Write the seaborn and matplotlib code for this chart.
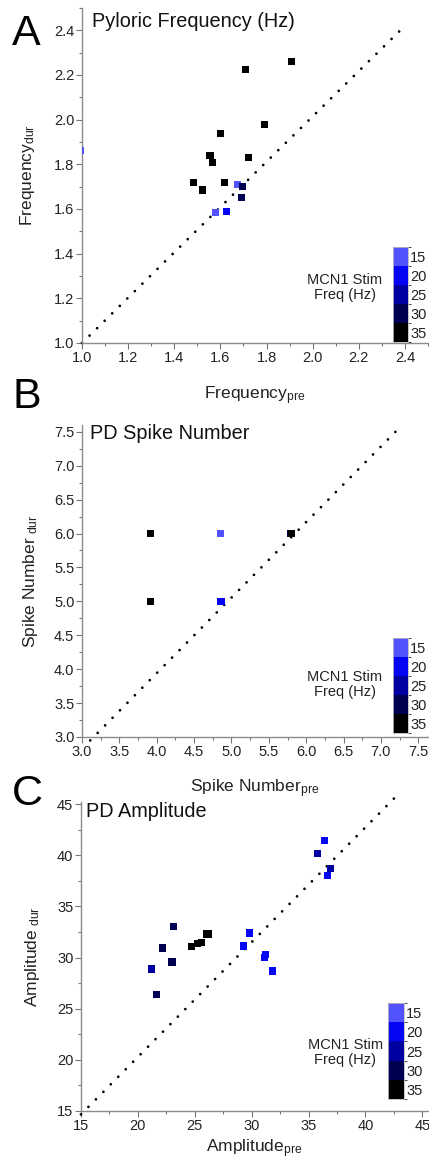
import numpy as np
import pandas as pd
import matplotlib
matplotlib.use("Agg")
import matplotlib.pyplot as plt
from matplotlib.colors import ListedColormap, BoundaryNorm
from matplotlib.cm import ScalarMappable
from matplotlib.ticker import MultipleLocator, FormatStrFormatter
import seaborn as sns

# stimulation frequencies and colours (colour scale)
stim_levels = [15, 20, 25, 30, 35]
stim_colors = ["#5252ff", "#0505f5", "#0000a2", "#000052", "#000000"]

# panel A: pyloric frequency
freq_pre = [1.91, 1.71, 1.79, 1.60, 1.555, 1.567, 1.72, 1.485, 1.523, 1.617,
            1.675, 1.697, 1.693, 1.578, 1.626, 0.993]
freq_dur = [2.26, 2.225, 1.98, 1.94, 1.84, 1.81, 1.83, 1.72, 1.685, 1.72,
            1.71, 1.70, 1.65, 1.585, 1.59, 1.86]
freq_stim = [35, 35, 35, 35, 35, 35, 35, 35, 35, 35, 15, 30, 30, 15, 20, 15]
diag_a_x = [1.0, 2.38]
diag_a_y = [1.0, 2.40]

# panel B: PD spike number
spike_pre = [3.92, 3.92, 4.855, 4.86, 5.785, 5.80]
spike_dur = [6.0, 5.0, 6.0, 5.0, 6.0, 6.0]
spike_stim = [35, 35, 15, 20, 30, 35]
diag_b_x = [3.11, 7.24]
diag_b_y = [2.95, 7.55]

# panel C: PD amplitude
amp_pre = [36.44, 35.76, 36.9, 36.64, 29.84, 29.25, 31.25, 31.16, 31.83,
           23.15, 22.16, 23.0, 21.19, 21.6, 24.68, 25.26, 25.59, 26.0, 26.2]
amp_dur = [41.41, 40.2, 38.7, 37.98, 32.4, 31.13, 30.3, 29.99, 28.68,
           33.02, 30.93, 29.56, 28.88, 26.36, 31.06, 31.36, 31.49, 32.3, 32.3]
amp_stim = [20, 25, 25, 20, 20, 20, 20, 20, 20,
            30, 30, 30, 25, 30, 35, 35, 35, 35, 35]
diag_c_x = [15.0, 42.74]
diag_c_y = [14.67, 45.8]

sns.set_style("ticks")
plt.rcParams["font.family"] = ["Liberation Sans", "DejaVu Sans"]
plt.rcParams["mathtext.default"] = "regular"

W, H = 429, 1160
fig = plt.figure(figsize=(W / 100, H / 100), dpi=100)
palette = dict(zip(stim_levels, stim_colors))


def px_axes(left, top, right, bottom):
    return fig.add_axes([left / W, 1 - bottom / H, (right - left) / W, (bottom - top) / H])


def panel(ax, x, y, stim, dx, dy, xlim, ylim, major, minor, title, title_x, title_y,
          xlabel, ylabel, xlab_y, ylab_x, cbar_box, legend_xy):
    df = pd.DataFrame({"pre": x, "dur": y, "stim": stim})
    ax.plot(dx, dy, color="black", lw=2.0, linestyle=(0, (0.01, 3.8)),
            dash_capstyle="round", clip_on=False, zorder=1)
    sns.scatterplot(data=df, x="pre", y="dur", hue="stim", palette=palette,
                    marker="s", s=26, linewidth=0, legend=False, ax=ax, zorder=3)
    ax.set_xlim(*xlim)
    ax.set_ylim(*ylim)
    ax.xaxis.set_major_locator(MultipleLocator(major))
    ax.yaxis.set_major_locator(MultipleLocator(major))
    ax.xaxis.set_minor_locator(MultipleLocator(minor))
    ax.yaxis.set_minor_locator(MultipleLocator(minor))
    if major < 1:
        ax.xaxis.set_major_formatter(FormatStrFormatter("%.1f"))
        ax.yaxis.set_major_formatter(FormatStrFormatter("%.1f"))
    sns.despine(ax=ax)
    for s in ["left", "bottom"]:
        ax.spines[s].set_color("#8c8c8c")
        ax.spines[s].set_linewidth(1.0)
    ax.tick_params(which="major", length=4, width=0.8, color="#777777",
                   labelsize=10.5, labelcolor="#222222", pad=1.5)
    ax.tick_params(which="minor", length=2.5, width=0.8, color="#777777")
    ax.set_xlabel(xlabel, fontsize=12.5, color="#222222", va="top")
    ax.set_ylabel(ylabel, fontsize=12.5, color="#222222")
    ax.xaxis.set_label_coords(0.5, xlab_y)
    ax.yaxis.set_label_coords(ylab_x, 0.5)
    ax.text(title_x, title_y, title, transform=ax.transAxes, fontsize=14.3,
            color="#111111", va="baseline", ha="left")
    # discrete colour scale
    cax = ax.inset_axes(cbar_box)
    bounds = np.arange(12.5, 40, 5)
    sm = ScalarMappable(norm=BoundaryNorm(bounds, len(stim_colors)),
                        cmap=ListedColormap(stim_colors))
    cb = fig.colorbar(sm, cax=cax, ticks=stim_levels)
    cax.invert_yaxis()
    cb.outline.set_edgecolor("#bbbbbb")
    cb.outline.set_linewidth(0.6)
    cax.tick_params(length=0, labelsize=10.5, labelcolor="#222222", pad=1.5)
    ax.text(legend_xy[0], legend_xy[1], "MCN1 Stim\nFreq (Hz)", transform=ax.transAxes,
            ha="center", va="center", fontsize=10.5, color="#222222", linespacing=1.1)


axA = px_axes(82, 8, 428, 343)
panel(axA, freq_pre, freq_dur, freq_stim, diag_a_x, diag_a_y,
      (1.0, 2.5), (1.0, 2.5), 0.2, 0.1, "Pyloric Frequency (Hz)", 0.028, 0.943,
      "Frequency$_{pre}$", "Frequency$_{dur}$", -0.125, -0.13,
      [0.899, 0.003, 0.043, 0.284], (0.76, 0.167))

axB = px_axes(82, 425, 428, 737)
panel(axB, spike_pre, spike_dur, spike_stim, diag_b_x, diag_b_y,
      (3.0, 7.63), (3.0, 7.6), 0.5, 0.25, "PD Spike Number", 0.022, 0.955,
      "Spike Number$_{pre}$", "Spike Number$_{\\ dur}$", -0.131, -0.121,
      [0.899, 0.013, 0.043, 0.304], (0.76, 0.167))

axC = px_axes(81, 802, 428, 1111)
panel(axC, amp_pre, amp_dur, amp_stim, diag_c_x, diag_c_y,
      (15, 45.5), (15, 45.2), 5, 2.5, "PD Amplitude", 0.014, 0.951,
      "Amplitude$_{pre}$", "Amplitude$_{\\ dur}$", -0.087, -0.112,
      [0.885, 0.039, 0.046, 0.31], (0.761, 0.188))

for letter, base in [("A", 45), ("B", 408), ("C", 805)]:
    fig.text(12 / W, 1 - base / H, letter, fontsize=31, color="black",
             ha="left", va="baseline")

fig.savefig("out.png", dpi=100)
